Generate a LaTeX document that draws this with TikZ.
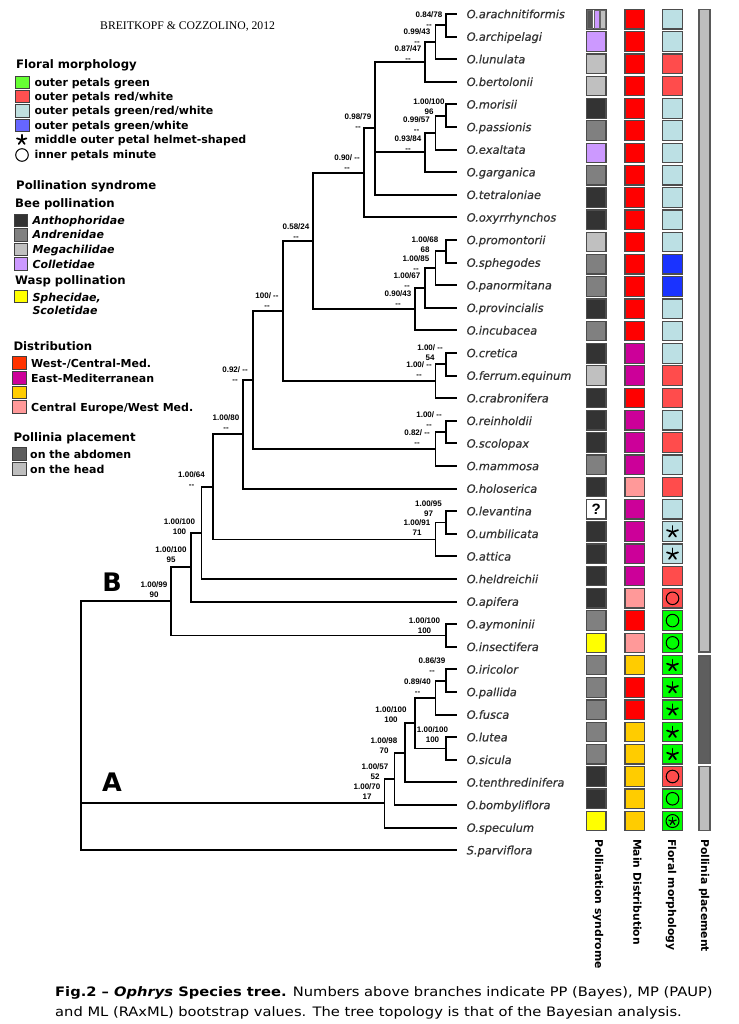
\documentclass[tikz,border=0pt]{standalone}
\usepackage{fontspec}
\setmainfont{DejaVu Sans}
\newfontfamily\numfont{Liberation Sans}
\newfontfamily\serfont{Liberation Serif}
\newfontfamily\capfont{DejaVu Sans}[FakeStretch=1.13]
\newfontface\leaffont{DejaVu Sans Oblique}[FakeBold=0.5]
\usetikzlibrary{calc}
\definecolor{pD}{HTML}{333333}
\definecolor{pM}{HTML}{808080}
\definecolor{pL}{HTML}{C0C0C0}
\definecolor{pV}{HTML}{CC99FF}
\definecolor{pY}{HTML}{FFFF00}
\definecolor{pS}{HTML}{555555}
\definecolor{dR}{HTML}{FF0000}
\definecolor{dM}{HTML}{CC0099}
\definecolor{dY}{HTML}{FFCC00}
\definecolor{dP}{HTML}{FF9999}
\definecolor{dO}{HTML}{FF3300}
\definecolor{fB}{HTML}{BCE0E4}
\definecolor{fR}{HTML}{FF4C4C}
\definecolor{fU}{HTML}{1A33FF}
\definecolor{fG}{HTML}{00FF00}
\definecolor{lG}{HTML}{66FF33}
\definecolor{lR}{HTML}{FF5050}
\definecolor{lB}{HTML}{C0E0E0}
\definecolor{lU}{HTML}{6666FF}
\definecolor{aD}{HTML}{5E5E5E}
\definecolor{aL}{HTML}{BEBEBE}
\tikzset{
  treeline/.style={line width=1.9pt, line cap=rect, black},
  leaflab/.style={anchor=base west, inner sep=0pt, yshift=-4.2pt, text=black!80,
    font=\leaffont\fontsize{11.4}{13}\selectfont},
  numlab/.style={inner sep=0pt, align=center, font=\numfont\bfseries\fontsize{8}{10}\selectfont},
  legh/.style={anchor=base west, inner sep=0pt, font=\bfseries\fontsize{11.7}{14}\selectfont},
  legt/.style={anchor=base west, inner sep=0pt, font=\bfseries\fontsize{11}{13}\selectfont},
  legi/.style={legt, font=\bfseries\itshape\fontsize{11}{13}\selectfont},
  legbox/.style={draw=black!75, line width=0.9pt, minimum width=13.3pt, minimum height=12.3pt, inner sep=0pt},
  colbox/.style={draw=black!70, line width=1.2pt, minimum width=19.5pt, minimum height=19.5pt, inner sep=0pt},
  coltitle/.style={rotate=-90, anchor=west, inner sep=0pt, font=\bfseries\fontsize{10.8}{13}\selectfont},
  astpic/.pic={\foreach \a in {-90,-18,54,126,198}{\draw[line width=1.75pt, line cap=round] (0,0.4) -- ++(\a:#1);}},
  circpic/.pic={\draw[line width=1pt] (0,0) circle[radius=6.3];},
  circast/.pic={\draw[line width=1pt] (0,0) circle[radius=6.5];
     \foreach \a in {-90,-18,54,126,198}{\draw[line width=1.2pt, line cap=round] (0,0.3) -- ++(\a:3.9);}},
  bigletter/.style={inner sep=0pt, font=\bfseries\fontsize{25.5}{30}\selectfont},
  captext/.style={anchor=base west, inner sep=0pt, font=\capfont\fontsize{13}{16}\selectfont}
}
\begin{document}
\begin{tikzpicture}[x=1pt,y=-1pt]
\useasboundingbox (0,0) rectangle (738,1024);
\fill[white] (0,0) rectangle (738,1024);

% header
\node[anchor=base west, inner sep=0pt, font=\serfont\fontsize{11.7}{14}\selectfont] (hdr) at (100,29.3) {BREITKOPF \& COZZOLINO, 2012};

% ---------- legend ----------
\node[legh] (hF) at (16,68.3) {Floral morphology};
\node[legbox, fill=lG] (bF1) at (22.3,82.2) {};
\node[legt] (tF1) at (34.3,86.2) {outer petals green};
\node[legbox, fill=lR] (bF2) at (22.3,96.7) {};
\node[legt] (tF2) at (34.3,100.7) {outer petals red/white};
\node[legbox, fill=lB] (bF3) at (22.3,111) {};
\node[legt] (tF3) at (34.3,115) {outer petals green/red/white};
\node[legbox, fill=lU] (bF4) at (22.3,125.5) {};
\node[legt] (tF4) at (34.3,129.5) {outer petals green/white};
\pic at (21.7,139.5) {astpic=5};
\node[legt] (tF5) at (34.3,144) {middle outer petal helmet-shaped};
\pic at (22,155) {circpic};
\node[legt] (tF6) at (34.3,159) {inner petals minute};

\node[legh] (hP) at (16,189.3) {Pollination syndrome};
\node[legh] (hB) at (15,207.3) {Bee pollination};
\node[legbox, fill=pD] (bP1) at (20.7,220.3) {};
\node[legi] (tP1) at (32.3,224.3) {Anthophoridae};
\node[legbox, fill=pM] (bP2) at (20.7,235) {};
\node[legi] (tP2) at (32.3,239) {Andrenidae};
\node[legbox, fill=pL] (bP3) at (20.7,249.5) {};
\node[legi] (tP3) at (32.3,253.5) {Megachilidae};
\node[legbox, fill=pV] (bP4) at (20.7,264) {};
\node[legi] (tP4) at (32.3,268) {Colletidae};
\node[legh] (hW) at (15,284.3) {Wasp pollination};
\node[legbox, fill=pY] (bP5) at (20.7,296.7) {};
\node[legi] (tP5) at (32.3,301.7) {Sphecidae,};
\node[legi] (tP6) at (32.3,314.3) {Scoletidae};

\node[legh] (hD) at (13.3,350) {Distribution};
\node[legbox, fill=dO] (bD1) at (19.3,363) {};
\node[legt] (tD1) at (31,367.7) {West-/Central-Med.};
\node[legbox, fill=dM] (bD2) at (19.3,377.8) {};
\node[legt] (tD2) at (31,382.3) {East-Mediterranean};
\node[legbox, fill=dY] (bD3) at (19.3,392.5) {};
\node[legbox, fill=dP] (bD4) at (19.3,407) {};
\node[legt] (tD4) at (31,411.5) {Central Europe/West Med.};

\node[legh] (hA) at (13.3,441.7) {Pollinia placement};
\node[legbox, fill=aD] (bA1) at (19.3,454) {};
\node[legt] (tA1) at (30,458.5) {on the abdomen};
\node[legbox, fill=aL] (bA2) at (19.3,468.8) {};
\node[legt] (tA2) at (30,473) {on the head};

% ---------- tree ----------
\foreach \i in {1,...,38} \coordinate (e\i) at (456.5,{14+(\i-1)*22.6});
\foreach \t [count=\i] in {O.arachnitiformis,O.archipelagi,O.lunulata,O.bertolonii,O.morisii,O.passionis,O.exaltata,O.garganica,O.tetraloniae,O.oxyrrhynchos,O.promontorii,O.sphegodes,O.panormitana,O.provincialis,O.incubacea,O.cretica,O.ferrum.equinum,O.crabronifera,O.reinholdii,O.scolopax,O.mammosa,O.holoserica,O.levantina,O.umbilicata,O.attica,O.heldreichii,O.apifera,O.aymoninii,O.insectifera,O.iricolor,O.pallida,O.fusca,O.lutea,O.sicula,O.tenthredinifera,O.bombyliflora,O.speculum,S.parviflora}
  \node[leaflab] (t\i) at (466.5,{14+(\i-1)*22.6}) {\t};

\coordinate (n1) at (446,25.3);
\coordinate (n2) at (435.5,42.25);
\coordinate (n3) at (425,62);
\coordinate (n4) at (446,115.7);
\coordinate (n5) at (435.5,132.65);
\coordinate (n6) at (425,152.4);
\coordinate (n7) at (375,128.4);
\coordinate (n8) at (364,172.9);
\coordinate (n9) at (446,251.3);
\coordinate (n10) at (435.5,268.25);
\coordinate (n11) at (425,288);
\coordinate (n12) at (415,309.2);
\coordinate (n13) at (313,241);
\coordinate (n14) at (446,364.3);
\coordinate (n15) at (435.5,381.25);
\coordinate (n16) at (283,311.1);
\coordinate (n17) at (446,432.1);
\coordinate (n18) at (435.5,449.05);
\coordinate (n19) at (253,380.1);
\coordinate (n20) at (243,434.35);
\coordinate (n21) at (446,522.5);
\coordinate (n22) at (435.5,539.45);
\coordinate (n23) at (213,486.9);
\coordinate (n24) at (201.5,532.95);
\coordinate (n25) at (191,567.3);
\coordinate (n26) at (446,635.5);
\coordinate (n27) at (171,601.4);
\coordinate (n28) at (446,680.7);
\coordinate (n29) at (435.5,697.65);
\coordinate (n30) at (446,748.5);
\coordinate (n31) at (415,723.1);
\coordinate (n32) at (405,752.75);
\coordinate (n33) at (394.5,778.9);
\coordinate (n34) at (384.5,803.25);
\coordinate (root) at (81,725);

\foreach \p/\c in {n1/e1,n1/e2,n2/n1,n2/e3,n3/n2,n3/e4,n4/e5,n4/e6,n5/n4,n5/e7,n6/n5,n6/e8,
  n7/n3,n7/n6,n7/e9,n8/n7,n8/e10,n9/e11,n9/e12,n10/n9,n10/e13,n11/n10,n11/e14,n12/n11,n12/e15,
  n13/n8,n13/n12,n14/e16,n14/e17,n15/n14,n15/e18,n16/n13,n16/n15,n17/e19,n17/e20,n18/n17,n18/e21,
  n19/n16,n19/n18,n20/n19,n20/e22,n21/e23,n21/e24,n22/n21,n22/e25,n23/n20,n23/n22,n24/n23,n24/e26,
  n25/n24,n25/e27,n26/e28,n26/e29,n27/n25,n27/n26,n28/e30,n28/e31,n29/n28,n29/e32,n30/e33,n30/e34,
  n31/n29,n31/n30,n32/n31,n32/e35,n33/n32,n33/e36,n34/n33,n34/e37,root/n27,root/n34,root/e38}
  \draw[treeline] (\p) |- (\c);

% support values
\node[numlab] (L1) at (429,20) {0.84/78\\-{}-};
\node[numlab] (L2) at (417,37) {0.99/43\\-{}-};
\node[numlab] (L3) at (408,53.5) {0.87/47\\-{}-};
\node[numlab] (L4) at (429,107) {1.00/100\\96};
\node[numlab] (L5) at (416.5,125) {0.99/57\\-{}-};
\node[numlab] (L6) at (408,143.5) {0.93/84\\-{}-};
\node[numlab] (L7) at (358,121.5) {0.98/79\\-{}-};
\node[numlab] (L8) at (347,162.5) {0.90/ -{}-\\-{}-};
\node[numlab] (L9) at (296,231.5) {0.58/24\\-{}-};
\node[numlab] (L10) at (425,244.5) {1.00/68\\68};
\node[numlab] (L11) at (416,263.5) {1.00/85\\-{}-};
\node[numlab] (L12) at (407,281) {1.00/67\\-{}-};
\node[numlab] (L13) at (398,299) {0.90/43\\-{}-};
\node[numlab] (L14) at (267,301) {100/ -{}-\\-{}-};
\node[numlab] (L15) at (430,353) {1.00/ -{}-\\54};
\node[numlab] (L16) at (419,369.5) {1.00/ -{}-\\-{}-};
\node[numlab] (L17) at (429,419.5) {1.00/ -{}-\\-{}-};
\node[numlab] (L18) at (417,438) {0.82/ -{}-\\-{}-};
\node[numlab] (L19) at (235,374.5) {0.92/ -{}-\\-{}-};
\node[numlab] (L20) at (226,422.5) {1.00/80\\-{}-};
\node[numlab] (L21) at (191.5,479.5) {1.00/64\\-{}-};
\node[numlab] (L22) at (428.5,509) {1.00/95\\97};
\node[numlab] (L23) at (417,528) {1.00/91\\71};
\node[numlab] (L24) at (179.5,527) {1.00/100\\100};
\node[numlab] (L25) at (171,555) {1.00/100\\95};
\node[numlab] (L26) at (154,590) {1.00/99\\90};
\node[numlab] (L27) at (424.5,625.5) {1.00/100\\100};
\node[numlab] (L28) at (432,665.5) {0.86/39\\-{}-};
\node[numlab] (L29) at (417.5,687) {0.89/40\\-{}-};
\node[numlab] (L30) at (391,715) {1.00/100\\100};
\node[numlab] (L31) at (432.5,734.5) {1.00/100\\100};
\node[numlab] (L32) at (384,746) {1.00/98\\70};
\node[numlab] (L33) at (375,771.7) {1.00/57\\52};
\node[numlab] (L34) at (367,791.7) {1.00/70\\17};

\node[bigletter] (cladeB) at (112,582) {B};
\node[bigletter] (cladeA) at (112,782) {A};

% ---------- character columns ----------
\foreach \c [count=\i] in {white,pV,pL,pL,pD,pM,pV,pM,pD,pD,pL,pM,pM,pD,pM,pD,pL,pD,pD,pD,pM,pD,white,pD,pD,pD,pD,pM,pY,pM,pM,pM,pM,pM,pD,pD,pY}
  \node[colbox, fill=\c] (p\i) at (596.3,{19.3+(\i-1)*22.27}) {};
\draw[black!60, line width=0.6pt, fill=pS] (587.4,10.4) rectangle (592.6,28.2);
\draw[black!60, line width=0.6pt, fill=pV] (593.8,10.4) rectangle (599.0,28.2);
\draw[black!60, line width=0.6pt, fill=pL] (600.2,10.4) rectangle (605.3,28.2);
\node[inner sep=0pt, font=\numfont\bfseries\fontsize{15}{18}\selectfont] (qmark) at (p23) {?};

\foreach \c [count=\i] in {dR,dR,dR,dR,dR,dR,dR,dR,dR,dR,dR,dR,dR,dR,dR,dM,dM,dR,dM,dM,dM,dP,dM,dM,dM,dM,dP,dR,dP,dY,dR,dR,dY,dY,dY,dY,dY}
  \node[colbox, fill=\c] (d\i) at (634.7,{19.3+(\i-1)*22.27}) {};

\foreach \c [count=\i] in {fB,fB,fR,fR,fB,fB,fB,fB,fB,fB,fB,fU,fU,fB,fB,fB,fR,fR,fB,fR,fB,fR,fB,fB,fB,fR,fR,fG,fG,fG,fG,fG,fG,fG,fR,fG,fG}
  \node[colbox, fill=\c] (f\i) at (672.5,{19.3+(\i-1)*22.27}) {};
\foreach \i in {24,25,30,31,32,33,34} \pic at (f\i) {astpic=5.8};
\foreach \i in {27,28,29,35,36} \pic at (f\i) {circpic};
\pic at (f37) {circast};

% pollinia placement bar
\draw[black!65, line width=1.2pt, fill=aL] (699,9.3) rectangle (710,652);
\draw[black!65, line width=1.2pt, fill=aD] (699,656) rectangle (710,763.3);
\draw[black!65, line width=1.2pt, fill=aL] (699,766.7) rectangle (710,830.7);

\node[coltitle] (ct1) at (598,839) {Pollination syndrome};
\node[coltitle] (ct2) at (637.5,839) {Main Distribution};
\node[coltitle] (ct3) at (671,839) {Floral morphology};
\node[coltitle] (ct4) at (704,839) {Pollinia placement};

% caption
\node[captext] (cap1) at (55,996.7)
  {\textbf{Fig.2 – \textit{Ophrys} Species tree.} Numbers above branches indicate PP (Bayes), MP (PAUP)};
\node[captext] (cap2) at (55,1016)
  {and ML (RAxML) bootstrap values. The tree topology is that of the Bayesian analysis.};
\end{tikzpicture}
\end{document}
